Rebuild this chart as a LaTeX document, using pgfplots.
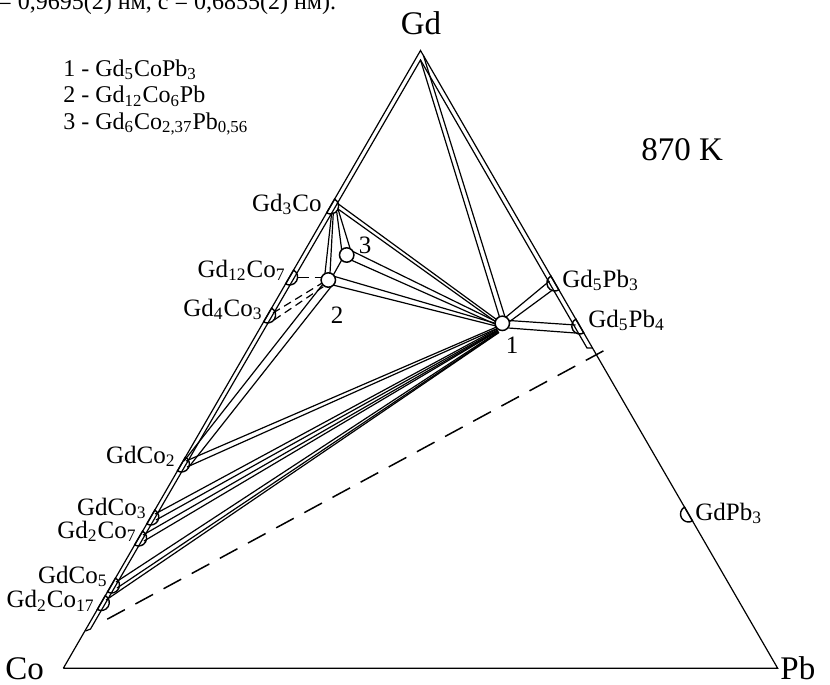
\documentclass[border=0pt]{standalone}
\usepackage{fontspec}
\setmainfont{Liberation Serif}
\usepackage{pgfplots}
\pgfplotsset{compat=1.18}
\newcommand\s[1]{\textsubscript{#1}}
\pgfdeclareplotmark{halfL}{%
  \pgfpathmoveto{\pgfpointpolar{60}{\pgfplotmarksize}}%
  \pgfpatharc{60}{-120}{\pgfplotmarksize}%
  \pgfpathclose\pgfusepathqstroke}
\pgfdeclareplotmark{halfR}{%
  \pgfpathmoveto{\pgfpointpolar{120}{\pgfplotmarksize}}%
  \pgfpatharc{120}{300}{\pgfplotmarksize}%
  \pgfpathclose\pgfusepathqstroke}
\pgfplotsset{tie/.style={black, line width=0.6bp, mark=none}}
\begin{document}
\begin{tikzpicture}
\begin{axis}[name=ax, scale only axis, width=415bp, height=342bp,
  xmin=0, xmax=830, ymin=0, ymax=684, y dir=reverse,
  axis lines=none, ticks=none, clip=false]
% triangle
\addplot[tie, line join=miter] coordinates {(63.3,668.3) (777.7,668.3) (420.5,50.5) (63.3,668.3)};
% inner boundary lines with end ticks
\addplot[tie] coordinates {(85.5,631) (90.5,629) (420.5,60) (587,348) (592.5,348)};
% ties from 1 to Gd corner
\addplot[tie] coordinates {(420.5,60) (499.5,317)};
\addplot[tie] coordinates {(423.4,55.4) (505,317)};
% 1 - Gd5Pb3
\addplot[tie] coordinates {(505.5,317.5) (549.5,281)};
\addplot[tie] coordinates {(509,322) (552.5,290)};
% 1 - Gd5Pb4
\addplot[tie] coordinates {(509,320.5) (575.5,325)};
\addplot[tie] coordinates {(508.5,328) (575.5,333)};
% 1 - Gd3Co, 3, 2
\addplot[tie] coordinates {(337,203) (496.5,319.5)};
\addplot[tie] coordinates {(338,209) (496,322)};
\addplot[tie] coordinates {(352,251) (496,321.5)};
\addplot[tie] coordinates {(351,260) (496,324.5)};
\addplot[tie] coordinates {(333,276) (496,323.5)};
\addplot[tie] coordinates {(333,285) (496,326)};
% 1 - Co-rich compounds
\addplot[tie] coordinates {(186,461) (496.5,327)};
\addplot[tie] coordinates {(187,467) (497,328.5)};
\addplot[tie] coordinates {(155,514) (497,329)};
\addplot[tie] coordinates {(156,520) (497.5,330)};
\addplot[tie] coordinates {(143,535) (498,330.5)};
\addplot[tie] coordinates {(144,541) (498,331)};
\addplot[tie] coordinates {(116,582) (498.5,331.5)};
\addplot[tie] coordinates {(117,588) (499,332)};
\addplot[tie] coordinates {(106,600) (499,332.5)};
% Gd3Co - 2, Gd3Co - 3
\addplot[tie] coordinates {(331.7,212.7) (325,273.3)};
\addplot[tie] coordinates {(333.3,212.7) (330,273.3)};
\addplot[tie] coordinates {(336.7,211.7) (341.7,250)};
\addplot[tie] coordinates {(338.3,210) (350,248.3)};
% 3 - 2
\addplot[tie] coordinates {(341.7,260) (333.3,275)};
% 2 - GdCo2
\addplot[tie] coordinates {(323,284) (184,461)};
\addplot[tie] coordinates {(334,283) (188,468)};
% dashed ties
\addplot[tie, dash pattern=on 6bp off 3bp] coordinates {(296.7,277.5) (321.7,277.5)};
\addplot[tie, dash pattern=on 4bp off 2.5bp] coordinates {(273,313) (321.7,283.3)};
\addplot[tie, dash pattern=on 4bp off 2.5bp] coordinates {(274,320) (323.3,286.7)};
\addplot[tie, line width=0.75bp, dash pattern=on 10bp off 6bp, dash phase=-3bp] coordinates {(102,622) (605,350)};
% binary compounds
\addplot[only marks, mark=halfL, mark size=4bp, mark options={line width=0.7bp}] coordinates {
 (330.6,206) (289.6,277) (267.6,315) (181.4,464) (150.8,517) (138.6,538) (111.5,585) (101.3,602.5)};
\addplot[only marks, mark=halfR, mark size=4bp, mark options={line width=0.7bp}] coordinates {
 (554.9,283) (579.8,326) (688.5,514)};
% ternary compounds
\addplot[only marks, mark=*, mark size=3.6bp, mark options={fill=white, draw=black, line width=0.75bp}] coordinates {
 (502.3,323.3) (328.3,280) (346.7,255)};
% labels
\begin{scope}[font=\fontsize{16.5bp}{18bp}\selectfont]
\node[anchor=base] at (axis cs:421,35) {Gd};
\node[anchor=base west, inner sep=0pt] at (axis cs:5,679) {Co};
\node[anchor=base west, inner sep=0pt] at (axis cs:780,679) {Pb};
\node[anchor=base west, inner sep=0pt] at (axis cs:641,160) {870 K};
\end{scope}
\node[anchor=base west, inner sep=0pt, font=\fontsize{12bp}{14bp}\selectfont] at (axis cs:-2,9.5) {= 0,9695(2) нм, c = 0,6855(2) нм).};
\begin{scope}[font=\fontsize{12.5bp}{15bp}\selectfont, inner sep=0pt]
\node[anchor=base east] at (axis cs:322,211) {Gd\s{3}Co};
\node[anchor=base east] at (axis cs:286,277) {Gd\s{12}Co\s{7}};
\node[anchor=base east] at (axis cs:263,316) {Gd\s{4}Co\s{3}};
\node[anchor=base east] at (axis cs:176,463) {GdCo\s{2}};
\node[anchor=base east] at (axis cs:147,515) {GdCo\s{3}};
\node[anchor=base east] at (axis cs:137,538) {Gd\s{2}Co\s{7}};
\node[anchor=base east] at (axis cs:108,583) {GdCo\s{5}};
\node[anchor=base east] at (axis cs:95,607.5) {Gd\s{2}Co\s{17}};
\node[anchor=base west] at (axis cs:562,287) {Gd\s{5}Pb\s{3}};
\node[anchor=base west] at (axis cs:588,327) {Gd\s{5}Pb\s{4}};
\node[anchor=base west] at (axis cs:695,520) {GdPb\s{3}};
\node at (axis cs:512,345) {1};
\node at (axis cs:337,315) {2};
\node at (axis cs:365,245) {3};
\end{scope}
\begin{scope}[font=\fontsize{12bp}{15bp}\selectfont, inner sep=0pt]
\node[anchor=base west] at (axis cs:63,76) {1 - Gd\s{5}CoPb\s{3}};
\node[anchor=base west] at (axis cs:63,102.5) {2 - Gd\s{12}Co\s{6}Pb};
\node[anchor=base west] at (axis cs:63,129) {3 - Gd\s{6}Co\s{2,37}Pb\s{0,56}};
\end{scope}
\end{axis}
\pgfresetboundingbox
\path[use as bounding box] (ax.south west) rectangle (ax.north east);
\end{tikzpicture}
\end{document}
